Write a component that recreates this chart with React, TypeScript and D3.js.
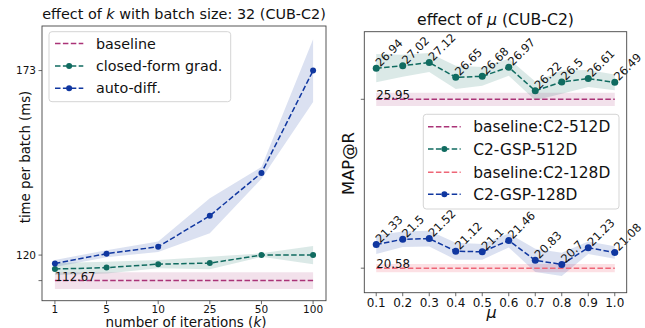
import React from 'react';
import * as d3 from 'd3';

// left panel: time per batch vs number of iterations k
const kLabels = ['1', '5', '10', '25', '50', '100'];
const baselineTime = 112.67;
const baselineTimeStd = 2.4;
const closedFormMean = [116.0, 116.4, 117.4, 117.7, 120.0, 120.0];
const closedFormStd = [1.7, 1.7, 1.2, 1.8, 0.5, 2.6];
const autoDiffMean = [117.6, 120.4, 122.4, 131.3, 143.6, 173.0];
const autoDiffStd = [1.0, 1.0, 1.5, 5.0, 1.7, 9.0];
const timeTicks = [112.67, 120, 173];
const timeTickLabels = ['', '120', '173'];

// right panel: MAP@R vs mu
const muValues = [0.1, 0.2, 0.3, 0.4, 0.5, 0.6, 0.7, 0.8, 0.9, 1.0];
const muTickLabels = ['0.1', '0.2', '0.3', '0.4', '0.5', '0.6', '0.7', '0.8', '0.9', '1.0'];
const baseline512 = 25.95;
const baseline512Std = 0.21;
const gsp512 = [26.94, 27.02, 27.12, 26.65, 26.68, 26.97, 26.22, 26.5, 26.61, 26.49];
const gsp512Std = [0.45, 0.35, 0.3, 0.37, 0.3, 0.27, 0.3, 0.37, 0.27, 0.25];
const baseline128 = 20.58;
const baseline128Std = 0.13;
const gsp128 = [21.33, 21.5, 21.52, 21.12, 21.1, 21.46, 20.83, 20.7, 21.23, 21.08];
const gsp128Std = [0.3, 0.25, 0.25, 0.27, 0.25, 0.22, 0.37, 0.37, 0.2, 0.2];
const mapTicks = [20.58, 25.95];

const C_BASE = '#aa3377';
const C_BASE128 = '#ee6677';
const C_TEAL = '#106b60';
const C_BLUE = '#1037a0';
const FONT = 'DejaVu Sans, sans-serif';
const DASH = '5.5,2.4';
const SPINE = '#444';

const fmtLabel = (v: number) => String(v);

const Band = ({ xs, mean, std, x, y, color, opacity = 0.15 }: any) => {
  const area = d3.area<number>()
    .x((_, i) => x(xs[i]))
    .y0((d, i) => y(d - std[i]))
    .y1((d, i) => y(d + std[i]));
  return <path d={area(mean) || ''} fill={color} fillOpacity={opacity} stroke="none" />;
};

const Series = ({ xs, vals, x, y, color, r = 3 }: any) => {
  const line = d3.line<number>().x((_, i) => x(xs[i])).y(d => y(d));
  return (
    <g>
      <path d={line(vals) || ''} fill="none" stroke={color} strokeWidth={1.5} strokeDasharray={DASH} />
      {vals.map((v: number, i: number) => (
        <circle key={i} cx={x(xs[i])} cy={y(v)} r={r} fill={color} />
      ))}
    </g>
  );
};

const LegendItem = ({ x0, x1, y, color, label, marker, tx, fs }: any) => (
  <g>
    <line x1={x0} x2={x1} y1={y} y2={y} stroke={color} strokeWidth={1.5} strokeDasharray={DASH} />
    {marker && <circle cx={(x0 + x1) / 2} cy={y} r={3} fill={color} />}
    <text x={tx} y={y + fs * 0.36} fontSize={fs} fill="#111">{label}</text>
  </g>
);

const LeftPanel = () => {
  const L = { left: 42, right: 326, top: 26, bottom: 300.7 };
  const xs = d3.range(kLabels.length);
  const x = d3.scaleLinear().domain([-0.25, 5.25]).range([L.left, L.right]);
  const y = d3.scaleLinear().domain([106.9, 185.8]).range([L.bottom, L.top]);
  const bx = [xs[0], xs[xs.length - 1]];
  const baseArr = bx.map(() => baselineTime);
  return (
    <g fontFamily={FONT}>
      <Band xs={bx} mean={baseArr} std={bx.map(() => baselineTimeStd)} x={x} y={y} color={C_BASE} />
      <Band xs={xs} mean={closedFormMean} std={closedFormStd} x={x} y={y} color={C_TEAL} />
      <Band xs={xs} mean={autoDiffMean} std={autoDiffStd} x={x} y={y} color={C_BLUE} />
      <line x1={x(bx[0])} x2={x(bx[1])} y1={y(baselineTime)} y2={y(baselineTime)}
        stroke={C_BASE} strokeWidth={1.5} strokeDasharray={DASH} />
      <text x={x(0)} y={y(baselineTime)} fontSize={11.6} fill="#111">{baselineTime.toFixed(2)}</text>
      <Series xs={xs} vals={closedFormMean} x={x} y={y} color={C_TEAL} />
      <Series xs={xs} vals={autoDiffMean} x={x} y={y} color={C_BLUE} />

      <rect x={L.left} y={L.top} width={L.right - L.left} height={L.bottom - L.top}
        fill="none" stroke={SPINE} strokeWidth={0.9} />
      {kLabels.map((k, i) => (
        <g key={k}>
          <line x1={x(i)} x2={x(i)} y1={L.bottom} y2={L.bottom + 3.5} stroke={SPINE} strokeWidth={0.8} />
          <text x={x(i)} y={L.bottom + 12} fontSize={10.5} textAnchor="middle" fill="#111">{k}</text>
        </g>
      ))}
      {timeTicks.map((t, i) => (
        <g key={t}>
          <line x1={L.left - 3.5} x2={L.left} y1={y(t)} y2={y(t)} stroke={SPINE} strokeWidth={0.8} />
          <text x={L.left - 6} y={y(t) + 3.8} fontSize={10.5} textAnchor="end" fill="#111">{timeTickLabels[i]}</text>
        </g>
      ))}

      <text x={(L.left + L.right) / 2} y={19} fontSize={14.4} textAnchor="middle" fill="#111">
        effect of <tspan fontStyle="italic">k</tspan> with batch size: 32 (CUB-C2)
      </text>
      <text x={(L.left + L.right) / 2 + 2} y={327} fontSize={13.5} textAnchor="middle" fill="#111">
        number of iterations (<tspan fontStyle="italic">k</tspan>)
      </text>
      <text transform={`translate(30,157) rotate(-90)`} fontSize={13.3} textAnchor="middle" fill="#111">
        time per batch (ms)
      </text>

      <rect x={49} y={31.7} width={181.7} height={70} rx={3} fill="#fff" fillOpacity={0.85}
        stroke="#d0d0d0" strokeWidth={0.9} />
      <LegendItem x0={55} x1={83.3} y={43.5} color={C_BASE} label="baseline" tx={96} fs={14.3} />
      <LegendItem x0={55} x1={83.3} y={66} color={C_TEAL} label="closed-form grad." marker tx={96} fs={14.3} />
      <LegendItem x0={55} x1={83.3} y={88.3} color={C_BLUE} label="auto-diff." marker tx={96} fs={14.3} />
    </g>
  );
};

const RightPanel = () => {
  const R = { left: 364.3, right: 626.7, top: 31.7, bottom: 292.7 };
  const x = d3.scaleLinear().domain([0.055, 1.045]).range([R.left, R.right]);
  const y = d3.scaleLinear().domain([19.8, 28.1]).range([R.bottom, R.top]);
  const bx = [muValues[0], muValues[muValues.length - 1]];
  const ann = (vals: number[]) => vals.map((v, i) => (
    <text key={i} transform={`translate(${x(muValues[i]) + 4},${y(v) - 1}) rotate(-45)`}
      fontSize={11.5} fill="#111">{fmtLabel(v)}</text>
  ));
  return (
    <g fontFamily={FONT}>
      <Band xs={bx} mean={bx.map(() => baseline512)} std={bx.map(() => baseline512Std)} x={x} y={y} color={C_BASE} />
      <Band xs={bx} mean={bx.map(() => baseline128)} std={bx.map(() => baseline128Std)} x={x} y={y} color={C_BASE128} opacity={0.2} />
      <Band xs={muValues} mean={gsp512} std={gsp512Std} x={x} y={y} color={C_TEAL} />
      <Band xs={muValues} mean={gsp128} std={gsp128Std} x={x} y={y} color={C_BLUE} />
      <line x1={x(bx[0])} x2={x(bx[1])} y1={y(baseline512)} y2={y(baseline512)}
        stroke={C_BASE} strokeWidth={1.5} strokeDasharray={DASH} />
      <line x1={x(bx[0])} x2={x(bx[1])} y1={y(baseline128)} y2={y(baseline128)}
        stroke={C_BASE128} strokeWidth={1.5} strokeDasharray={DASH} />
      <text x={x(bx[0])} y={y(baseline512)} fontSize={11.8} fill="#111">{baseline512.toFixed(2)}</text>
      <text x={x(bx[0])} y={y(baseline128)} fontSize={11.8} fill="#111">{baseline128.toFixed(2)}</text>
      <Series xs={muValues} vals={gsp512} x={x} y={y} color={C_TEAL} r={3.5} />
      <Series xs={muValues} vals={gsp128} x={x} y={y} color={C_BLUE} r={3.5} />
      {ann(gsp512)}
      {ann(gsp128)}

      <rect x={R.left} y={R.top} width={R.right - R.left} height={R.bottom - R.top}
        fill="none" stroke={SPINE} strokeWidth={0.9} />
      {muValues.map((m, i) => (
        <g key={m}>
          <line x1={x(m)} x2={x(m)} y1={R.bottom} y2={R.bottom + 3.5} stroke={SPINE} strokeWidth={0.8} />
          <text x={x(m)} y={R.bottom + 14} fontSize={12} textAnchor="middle" fill="#111">{muTickLabels[i]}</text>
        </g>
      ))}
      {mapTicks.map(t => (
        <line key={t} x1={R.left - 3.5} x2={R.left} y1={y(t)} y2={y(t)} stroke={SPINE} strokeWidth={0.8} />
      ))}

      <text x={(R.left + R.right) / 2} y={25} fontSize={15.7} textAnchor="middle" fill="#111">
        effect of <tspan fontStyle="italic">μ</tspan> (CUB-C2)
      </text>
      <text x={491.7} y={318} fontSize={16} fontStyle="italic" textAnchor="middle" fill="#111">μ</text>
      <text transform={`translate(354,163.5) rotate(-90)`} fontSize={16.4} textAnchor="middle" fill="#111">
        MAP@R
      </text>

      <rect x={423.3} y={114.3} width={195.7} height={94.7} rx={3} fill="#fff" fillOpacity={0.85}
        stroke="#d0d0d0" strokeWidth={0.9} />
      <LegendItem x0={428} x1={460.7} y={126.7} color={C_BASE} label="baseline:C2-512D" tx={473.3} fs={15.4} />
      <LegendItem x0={428} x1={460.7} y={149} color={C_TEAL} label="C2-GSP-512D" marker tx={473.3} fs={15.4} />
      <LegendItem x0={428} x1={460.7} y={172.3} color={C_BASE128} label="baseline:C2-128D" tx={473.3} fs={15.4} />
      <LegendItem x0={428} x1={460.7} y={194.3} color={C_BLUE} label="C2-GSP-128D" marker tx={473.3} fs={15.4} />
    </g>
  );
};

export default function App() {
  return (
    <svg width={645} height={328} style={{ position: 'absolute', left: 0, top: 0, background: '#fff' }}>
      <rect width={645} height={328} fill="#fff" />
      <LeftPanel />
      <RightPanel />
    </svg>
  );
}
